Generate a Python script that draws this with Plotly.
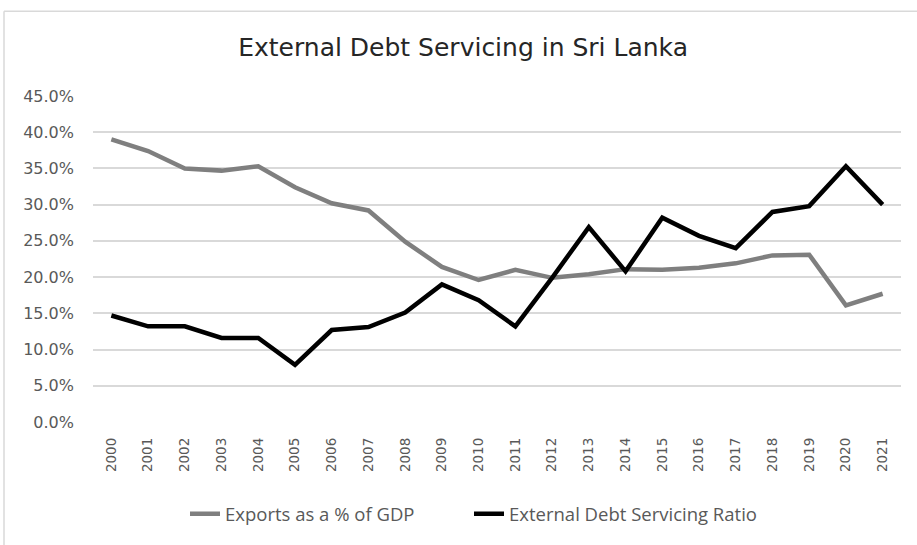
import plotly.graph_objects as go

# Years on the category axis
years = [str(y) for y in range(2000, 2022)]

# Exports as a share of GDP (%)
exports_pct_gdp = [39.0, 37.4, 35.0, 34.7, 35.3, 32.4, 30.2, 29.2, 24.9, 21.4,
                   19.6, 21.0, 19.9, 20.4, 21.1, 21.0, 21.3, 21.9, 23.0, 23.1,
                   16.1, 17.7]

# External debt servicing ratio (%)
debt_service_ratio = [14.7, 13.2, 13.2, 11.6, 11.6, 7.9, 12.7, 13.1, 15.1, 19.0,
                      16.8, 13.2, 19.9, 26.9, 20.8, 28.2, 25.7, 24.0, 29.0, 29.8,
                      35.3, 30.0]

TEXT = "#595959"
GRID = "#d9d9d9"

fig = go.Figure()
fig.add_trace(go.Scatter(
    x=years, y=exports_pct_gdp, mode="lines",
    name="Exports as a % of GDP", legend="legend",
    line=dict(color="#7f7f7f", width=4.5),
))
fig.add_trace(go.Scatter(
    x=years, y=debt_service_ratio, mode="lines",
    name="External Debt Servicing Ratio", legend="legend2",
    line=dict(color="#000000", width=4.5),
))

legend_style = dict(
    orientation="h", xanchor="left", y=-0.283, yanchor="middle",
    font=dict(family="Open Sans", size=18.5, color=TEXT),
    itemwidth=30, bgcolor="rgba(0,0,0,0)",
)

fig.update_layout(
    width=917, height=545,
    margin=dict(l=93, r=16, t=96, b=119),
    paper_bgcolor="white", plot_bgcolor="white",
    title=dict(
        text="External Debt Servicing in Sri Lanka",
        x=0.505, xanchor="center", y=0.913, yanchor="middle",
        font=dict(family="DejaVu Sans", size=25, color="#262626"),
    ),
    showlegend=True,
    legend=dict(x=(185 - 93) / 808, **legend_style),
    legend2=dict(x=(469 - 93) / 808, **legend_style),
    xaxis=dict(
        type="category", range=[-0.5, 21.5],
        tickangle=-90, showgrid=False, showline=False, zeroline=False,
        ticks="", ticklabelstandoff=12,
        tickfont=dict(family="DejaVu Sans", size=13.5, color=TEXT),
    ),
    yaxis=dict(
        range=[0, 45], dtick=5, tick0=0,
        tickformat=".1f", ticksuffix="%",
        showgrid=True, gridcolor=GRID, gridwidth=1.5,
        zeroline=False, showline=False, ticks="", ticklabelstandoff=18,
        tickfont=dict(family="DejaVu Sans", size=16, color=TEXT),
    ),
    shapes=[
        # chart frame: left and top edges
        dict(type="line", xref="paper", yref="paper",
             x0=(4 - 93) / 808, x1=(4 - 93) / 808, y0=(425.7 - 10) / 330, y1=(425.7 - 560) / 330,
             line=dict(color=GRID, width=1.5)),
        dict(type="line", xref="paper", yref="paper",
             x0=(4 - 93) / 808, x1=(930 - 93) / 808, y0=(425.7 - 10) / 330, y1=(425.7 - 10) / 330,
             line=dict(color=GRID, width=1.5)),
    ],
)

fig.write_html("out.html")
